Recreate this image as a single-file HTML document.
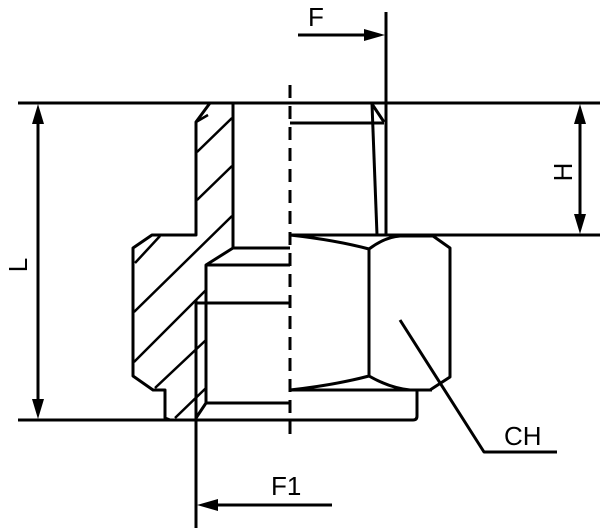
<!DOCTYPE html>
<html><head><style>html,body{margin:0;padding:0;background:#fff}svg{display:block}</style></head>
<body>
<svg width="600" height="528" viewBox="0 0 600 528" xmlns="http://www.w3.org/2000/svg" font-family="Liberation Sans, sans-serif">
<g stroke="#000" stroke-width="3" fill="none" stroke-linejoin="round">
<!-- top & bottom reference lines -->
<line x1="18" y1="103" x2="600" y2="103"/>
<line x1="18" y1="420" x2="206" y2="420"/>
<line x1="290" y1="235" x2="600" y2="235"/>
<!-- left body section -->
<polyline points="210,103 196,122 196,235 152,235 133,248 133,376 153,390 165,390 165,418 170,420"/>
<polyline points="233,103 233,248 206,265 206,403 196,418"/>
<line x1="196" y1="300" x2="196" y2="528"/>
<line x1="233" y1="248" x2="290" y2="248"/>
<line x1="206" y1="265" x2="290" y2="265"/>
<line x1="196" y1="303" x2="290" y2="303"/>
<line x1="206" y1="403" x2="290" y2="403"/>
<!-- hatching -->
<g stroke-width="2.5">
<line x1="208" y1="115" x2="196" y2="122"/>
<line x1="197" y1="152" x2="232" y2="118"/>
<line x1="197" y1="200" x2="232" y2="166"/>
<line x1="135" y1="263" x2="160" y2="236"/>
<line x1="134" y1="312" x2="232" y2="216"/>
<line x1="134" y1="362" x2="206" y2="290"/>
<line x1="155" y1="388" x2="206" y2="340"/>
<line x1="175" y1="418" x2="206" y2="388"/>
</g>
<!-- dashed centre line -->
<line x1="290" y1="85" x2="290" y2="438" stroke-dasharray="13,8"/>
<!-- upper thread -->
<line x1="290" y1="123" x2="384" y2="123"/>
<polyline points="372,104 384,122"/>
<polyline points="372,104 377,235"/>
<line x1="386" y1="12" x2="386" y2="235"/>
<!-- hex nut -->
<path d="M290,235 Q335,240 369,249 L369,376 Q335,385 290,390"/>
<path d="M369,249 Q385,237 400,236 L433,236 L450,248 L450,377 L430,390"/>
<path d="M369,376 Q390,388 410,390"/>
<line x1="290" y1="390" x2="432" y2="390"/>
<path d="M417,390 L417,416 Q417,420 413,420 L206,420"/>
<!-- CH leader -->
<polyline points="400,320 484,452 557,452"/>
<!-- L dimension -->
<line x1="38" y1="115" x2="38" y2="408"/>
<!-- H dimension -->
<line x1="580" y1="115" x2="580" y2="223"/>
<!-- F -->
<line x1="298" y1="35" x2="372" y2="35"/>
<!-- F1 -->
<line x1="210" y1="505" x2="332" y2="505"/>
</g>
<g fill="#000">
<polygon points="38,104 32,124 44,124"/>
<polygon points="38,419 32,399 44,399"/>
<polygon points="580,104 574,124 586,124"/>
<polygon points="580,234 574,214 586,214"/>
<polygon points="385,35 364,29 364,41"/>
<polygon points="197,505 218,499 218,511"/>
</g>
<g font-size="26" fill="#000">
<text x="308" y="26">F</text>
<text x="271" y="495">F1</text>
<text x="504" y="445">CH</text>
<text transform="translate(27,265) rotate(-90)" text-anchor="middle">L</text>
<text transform="translate(572,172) rotate(-90)" text-anchor="middle">H</text>
</g>
</svg>
</body></html>
